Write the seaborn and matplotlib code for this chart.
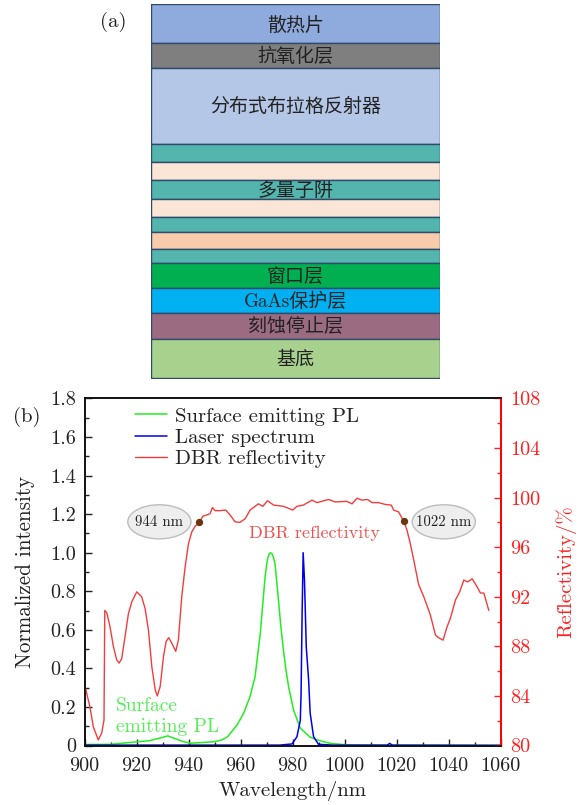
import numpy as np
import pandas as pd
import seaborn as sns
import matplotlib.pyplot as plt
from matplotlib.patches import Ellipse

# layer stack, top to bottom (thickness read in pixels)
layer_names = ['散热片', '抗氧化层', '分布式布拉格反射器', '', '', '多量子阱', '', '', '', '',
               '窗口层', 'GaAs保护层', '刻蚀停止层', '基底']
layer_thick = [39.8, 24.4, 76.6, 18, 18, 18.7, 18.3, 14.4, 17.6, 14, 24.2, 25.2, 25.8, 39.8]
layer_colors = ['#8faadc', '#7f7f7f', '#b4c7e7', '#53b5ae', '#fbe5d6', '#53b5ae', '#fbe5d6',
                '#53b5ae', '#f8cbad', '#53b5ae', '#00b050', '#00b0f0', '#9b6b82', '#a9d18e']

# spectra
pl_nm = [900, 910, 917, 925, 930, 932, 934, 938, 941, 945, 950, 953, 955, 958.6, 961.2, 963.7,
         965.6, 967.6, 968.6, 969.5, 970.3, 970.9, 971.5, 972.1, 972.7, 973.3, 974.6, 975.5, 976.5,
         977.5, 978.5, 980.4, 983, 986.8, 989.4, 994.5, 1001, 1008.6, 1060]
pl_int = [0.005, 0.006, 0.015, 0.025, 0.042, 0.05, 0.04, 0.02, 0.012, 0.015, 0.02, 0.03, 0.045,
          0.105, 0.167, 0.255, 0.357, 0.58, 0.74, 0.88, 0.96, 0.99, 1.0, 0.995, 0.975, 0.94, 0.755,
          0.62, 0.496, 0.39, 0.305, 0.184, 0.09, 0.043, 0.029, 0.011, 0.003, 0.001, 0.0]

laser_nm = [900, 975, 979.8, 981.7, 983, 983.3, 983.7, 984.1, 984.6, 985.3, 986.2, 986.8, 988.1,
            990, 995.8, 1016.4, 1017.4, 1018.3, 1060]
laser_int = [0.002, 0.002, 0.008, 0.045, 0.13, 0.27, 0.686, 1.0, 0.86, 0.51, 0.34, 0.167, 0.046,
             0.006, 0.002, 0.002, 0.011, 0.002, 0.001]

dbr_nm = [900.4, 902.1, 903.4, 905.3, 906.6, 907.5, 907.8, 908.6, 909.8, 911.1, 912.4, 913.3,
          914.3, 915.6, 916.9, 918.2, 920.1, 922, 923.3, 924.6, 925.9, 927.2, 928, 929.1, 930.4,
          931.4, 932.4, 933.6, 935.1, 936.1, 937.4, 938.7, 940, 941.3, 942.6, 944.2, 945.5, 947,
          948.3, 949.2, 950.2, 952.1, 954.3, 956, 957.9, 959.8, 961.8, 963.7, 966.9, 968.6, 970.4,
          972.7, 976.5, 980.1, 981.7, 984.2, 987.5, 989.4, 993.9, 996.4, 1000.9, 1002.9, 1004.8,
          1006.7, 1008.9, 1010.6, 1013.1, 1015.7, 1018, 1018.9, 1020.8, 1022.8, 1024, 1025.3,
          1026.6, 1028.5, 1030.5, 1033, 1035, 1036.2, 1037.9, 1039.4, 1040.7, 1042.7, 1044.3,
          1045.9, 1047.4, 1049.1, 1051, 1052.3, 1053.6, 1055.5]
dbr_ref = [84.6, 83.1, 81.5, 80.45, 81, 82.05, 90.9, 90.7, 89.6, 88, 86.9, 86.65, 87, 88.8, 90.65,
           91.6, 92.4, 92, 91.05, 89.3, 86.35, 84.5, 84, 84.75, 87.2, 88.4, 88.7, 88.25, 87.6, 88.5,
           92, 94.4, 96.3, 97.25, 97.7, 98, 98.5, 98.6, 98.7, 99.2, 98.95, 98.95, 99, 98.6, 98.05,
           98, 98.3, 99, 99.5, 99.3, 99.75, 99.4, 99.3, 99, 99.3, 99.4, 99.8, 99.6, 99.85, 99.65,
           99.7, 99.5, 99.95, 99.8, 99.85, 99.6, 99.6, 99.45, 99.4, 99, 98.85, 98.1, 97.4, 96.3, 95,
           93, 92, 90.55, 88.9, 88.7, 88.5, 89.55, 90.25, 91.75, 92.4, 93.35, 93.2, 93.45, 92.8,
           92.3, 92.3, 90.9]

marker_nm = [944.2, 1022.8]
marker_ref = [98.05, 98.1]

x_ticks = [900, 920, 940, 960, 980, 1000, 1020, 1040, 1060]
y_ticks = [0, 0.2, 0.4, 0.6, 0.8, 1.0, 1.2, 1.4, 1.6, 1.8]
y_labels = ['0', '0.2', '0.4', '0.6', '0.8', '1.0', '1.2', '1.4', '1.6', '1.8']
r_ticks = [80, 84, 88, 92, 96, 100, 104, 108]

sns.set_theme(style='ticks')
plt.rcParams['font.family'] = ['cmr10', 'Noto Sans CJK SC']
plt.rcParams['axes.formatter.use_mathtext'] = True
plt.rcParams['text.color'] = '#222222'

W, H = 580, 805
fig = plt.figure(figsize=(W / 100, H / 100), dpi=100)


def px_axes(x0, y0, x1, y1):
    return fig.add_axes([x0 / W, 1 - y1 / H, (x1 - x0) / W, (y1 - y0) / H])


# (a) layer structure
ax_a = px_axes(151, 3.5, 440, 378.5)
bottoms = np.cumsum([0] + layer_thick[:-1])
ax_a.bar(0, layer_thick, bottom=bottoms, width=1, color=layer_colors,
         edgecolor='#2f4a6b', linewidth=1)
for name, b, t in zip(layer_names, bottoms, layer_thick):
    if name:
        shift = 3.5 if name == '散热片' else 1
        ax_a.text(0, b + t / 2 + shift, name, ha='center', va='center', fontsize=13.7)
ax_a.set_xlim(-0.5, 0.5)
ax_a.set_ylim(sum(layer_thick), 0)
ax_a.axis('off')
fig.text(113.5 / W, 1 - 22 / H, '(a)', ha='center', va='center', fontsize=15)

# (b) spectra
ax = px_axes(84.5, 398.5, 500.5, 745.5)
tw = ax.twinx()
pl_df = pd.DataFrame({'nm': pl_nm, 'val': pl_int})
laser_df = pd.DataFrame({'nm': laser_nm, 'val': laser_int})
dbr_df = pd.DataFrame({'nm': dbr_nm, 'val': dbr_ref})
sns.lineplot(data=pl_df, x='nm', y='val', ax=ax, color='#22ee22', linewidth=1.1,
             label='Surface emitting PL')
sns.lineplot(data=laser_df, x='nm', y='val', ax=ax, color='#0000ee', linewidth=1.1,
             label='Laser spectrum')
sns.lineplot(data=dbr_df, x='nm', y='val', ax=tw, color='#f53c3c', linewidth=1.0,
             label='DBR reflectivity')
sns.scatterplot(x=marker_nm, y=marker_ref, ax=tw, color='#6b3510', s=28, zorder=5, linewidth=0)

ax.set_xlim(900, 1060)
ax.set_ylim(0, 1.8)
tw.set_ylim(80, 108)
ax.set_xticks(x_ticks, [str(v) for v in x_ticks])
ax.set_xticks(np.arange(910, 1060, 20), minor=True)
ax.set_yticks(y_ticks, y_labels)
ax.set_yticks(np.arange(0.1, 1.8, 0.2), minor=True)
tw.set_yticks(r_ticks, [str(v) for v in r_ticks])
tw.set_yticks(np.arange(82, 108, 4), minor=True)

ax.tick_params(axis='x', which='major', direction='in', length=5, width=1,
               labelsize=14.5, colors='#222222', pad=8)
ax.tick_params(axis='y', which='major', direction='in', length=5, width=1,
               labelsize=14.5, colors='#222222', pad=6)
ax.tick_params(axis='both', which='minor', direction='in', length=3, width=1, colors='#222222')
tw.tick_params(axis='y', which='major', direction='in', length=5, width=1,
               labelsize=14.5, colors='#ff2020', pad=7)
tw.tick_params(axis='y', which='minor', direction='in', length=3, width=1, colors='#ff2020')

ax.set_xlabel('Wavelength/nm', fontsize=15, color='#222222', va='center')
ax.set_ylabel('Normalized intensity', fontsize=15.2, color='#222222', va='center')
tw.set_ylabel('Reflectivity/%', fontsize=15, color='#ff2020', va='center')
ax.xaxis.set_label_coords(0.5, -0.131)
ax.yaxis.set_label_coords(-0.143, 0.5)
tw.yaxis.set_label_coords(1.157, 0.5)

for a in (ax, tw):
    for side in ('left', 'bottom', 'top'):
        a.spines[side].set_color('#111111')
        a.spines[side].set_linewidth(1.2)
    a.spines['right'].set_color('#ff0000')
    a.spines['right'].set_linewidth(1.3)

# ellipse callouts
tw.add_patch(Ellipse((928.8, 98.05), 24.3, 2.75, fc='#eeeeee', ec='#bdbdbd', lw=1, zorder=4))
tw.add_patch(Ellipse((1038.2, 98.05), 24.3, 2.75, fc='#eeeeee', ec='#bdbdbd', lw=1, zorder=4))
tw.text(928.8, 98.0, '944 nm', ha='center', va='center', fontsize=10.7, zorder=6)
tw.text(1038.2, 98.0, '1022 nm', ha='center', va='center', fontsize=10.7, zorder=6)
tw.text(963.3, 97.15, 'DBR reflectivity', color='#f05050', ha='left', va='center', fontsize=13)
tw.text(912, 83.19, 'Surface', color='#55ee55', ha='left', va='center', fontsize=14)
tw.text(912, 81.5, 'emitting PL', color='#55ee55', ha='left', va='center', fontsize=14)

# one legend for both axes
h1, l1 = ax.get_legend_handles_labels()
h2, l2 = tw.get_legend_handles_labels()
tw.get_legend().remove()
ax.get_legend().remove()
tw.legend(h1 + h2, l1 + l2, loc='upper left', bbox_to_anchor=(0.122, 0.975), frameon=False,
          fontsize=15, handlelength=1.5, handletextpad=0.4, labelspacing=0.12, borderpad=0,
          borderaxespad=0)

fig.text(27 / W, 1 - 417 / H, '(b)', ha='center', va='center', fontsize=15)

fig.savefig('out.png', dpi=100)
